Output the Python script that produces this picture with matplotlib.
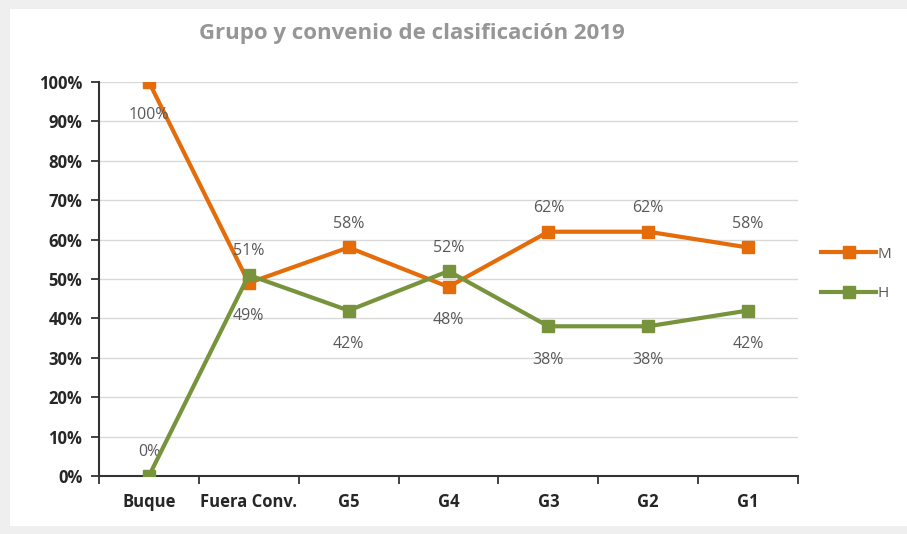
import matplotlib.pyplot as plt
from matplotlib.patches import Rectangle
from matplotlib.ticker import FuncFormatter, FixedLocator

plt.rcParams['font.family'] = ['Open Sans', 'DejaVu Sans']

categorias = ['Buque', 'Fuera Conv.', 'G5', 'G4', 'G3', 'G2', 'G1']
mujeres = [100, 49, 58, 48, 62, 62, 58]
hombres = [0, 51, 42, 52, 38, 38, 42]

naranja = '#E46C0A'
verde = '#77933C'
gris_txt = '#595959'

fig = plt.figure(figsize=(9.07, 5.34), dpi=100)
fig.patch.set_facecolor('#EFEFEF')
# tarjeta blanca del gráfico
fig.add_artist(Rectangle((10 / 907, 8 / 534), 897 / 907, 517 / 534,
                         transform=fig.transFigure, facecolor='white',
                         edgecolor='none', zorder=0))

ax = fig.add_axes([99 / 907, 58 / 534, 699 / 907, 394 / 534])
ax.set_facecolor('white')
x = list(range(len(categorias)))

ax.plot(x, mujeres, color=naranja, lw=3, marker='s', ms=8.5, label='M', zorder=3)
ax.plot(x, hombres, color=verde, lw=3, marker='s', ms=8.5, label='H', zorder=4)

# etiquetas de datos: la serie mayor arriba, la menor abajo (salvo extremos)
for i in x:
    for vals, otros in ((mujeres, hombres), (hombres, mujeres)):
        v = vals[i]
        arriba = (v >= otros[i] or v == 0) and v < 100
        dy = 17 if arriba else -24
        ax.annotate(f'{v}%', (i, v), xytext=(0, dy), textcoords='offset points',
                    ha='center', va='center', fontsize=11.5, color=gris_txt)

ax.set_xlim(-0.5, 6.5)
ax.set_ylim(0, 100)
ax.set_yticks(range(0, 101, 10))
ax.yaxis.set_major_formatter(FuncFormatter(lambda v, p: f'{v:.0f}%'))
ax.xaxis.set_major_locator(FixedLocator([i - 0.5 for i in range(8)]))
ax.xaxis.set_major_formatter(FuncFormatter(lambda v, p: ''))
ax.xaxis.set_minor_locator(FixedLocator(x))
ax.set_xticklabels(categorias, minor=True)
ax.tick_params(axis='x', which='minor', length=0, pad=12)
ax.tick_params(axis='x', which='major', length=6, width=1.3, color='#333333')
ax.tick_params(axis='y', length=6, width=1.3, color='#333333', pad=6)
for lab in ax.get_yticklabels() + ax.get_xticklabels(minor=True):
    lab.set_fontweight('bold')
    lab.set_fontsize(12)
    lab.set_color('#262626')

ax.grid(axis='y', color='#D9D9D9', lw=1)
ax.set_axisbelow(True)
for s in ('top', 'right'):
    ax.spines[s].set_visible(False)
for s in ('left', 'bottom'):
    ax.spines[s].set_color('#333333')
    ax.spines[s].set_linewidth(1.5)

fig.text(412 / 907, 1 - 34 / 534, 'Grupo y convenio de clasificación 2019',
         ha='center', va='center', fontsize=16, fontweight='bold', color='#969696')

leg = fig.legend(loc='center left', bbox_to_anchor=(815 / 907, 1 - 274 / 534),
                 frameon=False, handlelength=3.6, fontsize=11, labelspacing=1.6,
                 handletextpad=0.1, borderaxespad=0, markerscale=1.1)
for t in leg.get_texts():
    t.set_color(gris_txt)

fig.savefig('out.png', dpi=100, facecolor=fig.get_facecolor())
